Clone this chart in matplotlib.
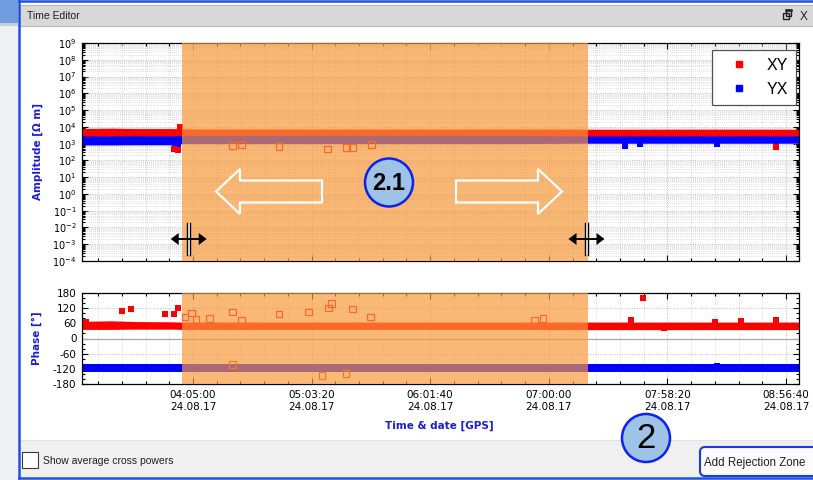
import matplotlib
matplotlib.use("Agg")
import matplotlib.pyplot as plt
from matplotlib.patches import Rectangle, Circle, Polygon, FancyBboxPatch
from matplotlib.ticker import (MultipleLocator, FixedLocator, LogLocator,
                               FuncFormatter, NullFormatter)
from matplotlib.lines import Line2D

plt.rcParams["axes.unicode_minus"] = False

W, H = 813, 480

# ---------------- data (time = seconds since 00:00:00 GPS) ----------------
date_label = "24.08.17"
tick_times = [14700, 18200, 21700, 25200, 28700, 32200]
reject_zone = (14375, 26350)

# envelope of the dense sample cloud
band_t = [11425, 12300, 13000, 14100, 14380, 16000, 20000, 24000, 26350, 27500, 30000, 32584]
xy_amp_hi = [7900, 8300, 7900, 7900, 7500, 7400, 7300, 7400, 7200, 7200, 7300, 7200]
xy_amp_lo = [2900, 2900, 2900, 2900, 3000, 3100, 3100, 3100, 2900, 2900, 2900, 2900]
yx_amp_hi = [3400, 3400, 3400, 3400, 3500, 3500, 3500, 3500, 3400, 3400, 3400, 3400]
yx_amp_lo = [830, 830, 850, 850, 1000, 1000, 1000, 1000, 1050, 1050, 1050, 1050]

xy_ph_hi = [68, 70, 67, 66, 65, 65, 65, 65, 65, 65, 65, 65]
xy_ph_lo = [36, 36, 37, 37, 36, 36, 36, 36, 35, 35, 35, 35]
yx_ph_hi = [-101, -101, -101, -101, -101, -101, -101, -101, -101, -101, -101, -101]
yx_ph_lo = [-131, -131, -131, -131, -131, -131, -131, -131, -131, -131, -131, -131]

# individual samples sticking out of the cloud
xy_amp_pts_t = [14150, 14250, 14330, 31916]
xy_amp_pts_v = [450, 400, 9500, 650]
yx_amp_pts_t = [14180, 14260, 27443, 27900, 30174, 31900]
yx_amp_pts_v = [700, 650, 750, 950, 1000, 800]

xy_ph_pts_t = [11530, 12603, 12869, 13873, 14139, 14257, 27635, 27989, 28600, 30100, 30880, 31900]
xy_ph_pts_v = [64, 107, 118, 98, 98, 122, 75, 161, 40, 64, 70, 75]
yx_ph_pts_t = [30150]
yx_ph_pts_v = [-108]

# samples flagged inside the rejection zone
rej_amp_t = [15861, 16138, 17240, 18678, 19239, 19416, 19977]
rej_amp_v = [800, 880, 650, 480, 560, 560, 880]
rej_xy_ph_t = [14464, 14662, 14789, 15181, 15861, 16138, 17240, 18117, 18696, 18796, 19404, 19948, 24779, 25027]
rej_xy_ph_v = [85, 101, 74, 78, 105, 72, 97, 105, 121, 138, 117, 85, 70, 80]
rej_yx_ph_t = [15872, 18509, 19218]
rej_yx_ph_v = [-104, -146, -139]

series_names = ["XY", "YX"]
RED, BLUE = "#ff0000", "#0000ff"
ZONE = "#f8993a"
LABEL_BLUE = "#1c1cd4"

# ---------------- figure ----------------
fig = plt.figure(figsize=(W / 100, H / 100), dpi=100, facecolor="white")


def fx(x):
    return x / W


def fy(y):
    return 1 - y / H


# window chrome (pixel coordinates, y downwards)
bg = fig.add_axes([0, 0, 1, 1], zorder=-5)
bg.set_xlim(0, W)
bg.set_ylim(H, 0)
bg.axis("off")
bg.add_patch(Rectangle((0, 0), 18, H, color="#eef0f3", lw=0))
bg.add_patch(Rectangle((0, 0), 18, 23, color="#6f9de0", lw=0))
bg.add_patch(Rectangle((0, 23), 18, 3, color="#c9cfd8", lw=0))
bg.add_patch(Rectangle((19, 4.5), W - 19, 21.5, facecolor="#d8d8d8", edgecolor="#b8b8b8", lw=0.8))
bg.add_patch(Rectangle((19, 440), W - 19, 37, facecolor="#f0f0f0", edgecolor="none"))
bg.plot([19, W], [440, 440], color="#e2e2e2", lw=0.8)
bg.plot([18.5, W], [0.8, 0.8], color="#1f4fe0", lw=1.8)
bg.plot([18.5, 18.5], [0, 478], color="#1f4fe0", lw=1.8)
bg.plot([18.5, W], [478, 478], color="#1f4fe0", lw=1.8)
bg.text(27, 16, "Time Editor", fontsize=7.5, family="Liberation Sans", color="#202020",
        va="center", ha="left")
# restore / close icons
bg.add_patch(Rectangle((783, 13), 5.5, 6, fill=False, edgecolor="#202020", lw=1.0))
bg.add_patch(Rectangle((785.5, 10), 5.5, 5.5, fill=False, edgecolor="#202020", lw=1.0))
bg.plot([785.5, 791], [10.3, 10.3], color="#202020", lw=1.8)
bg.text(804, 16.5, "X", fontsize=8.5, family="Liberation Sans", color="#202020",
        va="center", ha="center")
# checkbox and button
bg.add_patch(Rectangle((22, 452), 15.5, 15.5, facecolor="white", edgecolor="#3a3a3a", lw=0.8))
bg.text(43, 461, "Show average cross powers", fontsize=7.5, family="Liberation Sans",
        color="#202020", va="center", ha="left")
bg.add_patch(FancyBboxPatch((700, 447), 125, 29, boxstyle="round,pad=0,rounding_size=5",
                            facecolor="#fbfbfb", edgecolor="#1a3be0", lw=1.5))
bg.text(704, 463, "Add Rejection Zone", fontsize=8.3, family="Liberation Sans",
        color="#202020", va="center", ha="left")

# ---------------- plot axes ----------------
ax_amp = fig.add_axes([fx(82), fy(261), 717 / W, 218 / H])
ax_ph = fig.add_axes([fx(82), fy(384), 717 / W, 91 / H])

t0, t1 = band_t[0], band_t[-1]


def hms(v, pos=None):
    v = int(round(v))
    return f"{v // 3600:02d}:{(v % 3600) // 60:02d}:{v % 60:02d}\n{date_label}"


for ax in (ax_amp, ax_ph):
    ax.set_xlim(t0, t1)
    ax.set_axisbelow(True)
    ax.xaxis.set_major_locator(FixedLocator(tick_times))
    ax.xaxis.set_minor_locator(MultipleLocator(700))
    ax.tick_params(which="both", direction="in", top=True, right=True, width=0.8,
                   colors="black", labelsize=7.5)
    ax.tick_params(which="major", length=4.5)
    ax.tick_params(which="minor", length=2.5)
    ax.axvspan(*reject_zone, color=ZONE, alpha=0.69, lw=0, zorder=3)
    for s in ax.spines.values():
        s.set_linewidth(0.9)
    ax.spines["bottom"].set_linestyle((0, (1, 1)))

ax_amp.xaxis.set_major_formatter(NullFormatter())
ax_ph.xaxis.set_major_formatter(FuncFormatter(hms))
for lab in ax_ph.get_xticklabels():
    lab.set_linespacing(1.25)
ax_ph.tick_params(axis="x", pad=4)

# amplitude
ax_amp.set_yscale("log")
ax_amp.set_ylim(1e-4, 1e9)
ax_amp.yaxis.set_major_locator(LogLocator(base=10, numticks=30))
ax_amp.yaxis.set_minor_locator(LogLocator(base=10, subs=range(2, 10), numticks=200))
ax_amp.tick_params(axis="y", labelsize=7, pad=4)
ax_amp.grid(which="major", ls=(0, (1, 1.5)), color="#bcbcbc", lw=0.7)
ax_amp.grid(which="minor", ls=(0, (1, 1.5)), color="#d2d2d2", lw=0.6)

ax_amp.fill_between(band_t, yx_amp_lo, yx_amp_hi, color=BLUE, lw=0, zorder=2)
ax_amp.fill_between(band_t, xy_amp_lo, xy_amp_hi, color=RED, lw=0, zorder=2.1)
ax_amp.scatter(yx_amp_pts_t, yx_amp_pts_v, marker="s", s=20, color=BLUE, lw=0, zorder=2)
ax_amp.scatter(xy_amp_pts_t, xy_amp_pts_v, marker="s", s=20, color=RED, lw=0, zorder=2.1)
ax_amp.scatter(rej_amp_t, rej_amp_v, marker="s", s=24, facecolor="none",
               edgecolor=RED, lw=0.9, zorder=2)

leg_handles = [Line2D([], [], ls="none", marker="s", markersize=4.3, color=RED),
               Line2D([], [], ls="none", marker="s", markersize=4.3, color=BLUE)]
leg = ax_amp.legend(leg_handles, series_names, loc="upper right",
                    bbox_to_anchor=(fx(796), fy(50)), bbox_transform=fig.transFigure,
                    borderaxespad=0, fancybox=False, framealpha=1, edgecolor="#505050",
                    prop={"family": "Liberation Sans", "size": 11.5},
                    handlelength=2.4, handletextpad=0.5, labelspacing=0.55, borderpad=0.5)
leg.get_frame().set_linewidth(0.9)
leg.set_zorder(6)

# phase
ax_ph.set_ylim(-180, 180)
ax_ph.yaxis.set_major_locator(MultipleLocator(60))
ax_ph.yaxis.set_minor_locator(MultipleLocator(20))
ax_ph.tick_params(axis="y", pad=4)
ax_ph.spines["top"].set_linestyle((0, (1, 1)))
ax_ph.spines["right"].set_linestyle((0, (1, 1)))
ax_ph.grid(which="major", ls=(0, (1, 1.5)), color="#bcbcbc", lw=0.7)
ax_ph.grid(which="minor", axis="x", ls=(0, (1, 1.5)), color="#d2d2d2", lw=0.6)
ax_ph.axhline(0, color="#a8a8a8", lw=0.9, zorder=1)

ax_ph.fill_between(band_t, yx_ph_lo, yx_ph_hi, color=BLUE, lw=0, zorder=2)
ax_ph.fill_between(band_t, xy_ph_lo, xy_ph_hi, color=RED, lw=0, zorder=2.1)
ax_ph.scatter(yx_ph_pts_t, yx_ph_pts_v, marker="s", s=22, color=BLUE, lw=0, zorder=2)
ax_ph.scatter(xy_ph_pts_t, xy_ph_pts_v, marker="s", s=22, color=RED, lw=0, zorder=2.1)
ax_ph.scatter(rej_xy_ph_t, rej_xy_ph_v, marker="s", s=24, facecolor="none",
              edgecolor=RED, lw=0.9, zorder=2)
ax_ph.scatter(rej_yx_ph_t, rej_yx_ph_v, marker="s", s=24, facecolor="none",
              edgecolor="#c04020", lw=0.9, zorder=2)

# axis titles
fig.text(fx(37.5), fy(151), "Amplitude [\u03a9 m]", rotation=90, ha="center", va="center",
         fontsize=7.5, fontweight="bold", color=LABEL_BLUE)
fig.text(fx(37), fy(338), "Phase [\u00b0]", rotation=90, ha="center", va="center",
         fontsize=7.5, fontweight="bold", color=LABEL_BLUE)
fig.text(fx(439), fy(425.5), "Time & date [GPS]", ha="center", va="center",
         fontsize=7.5, fontweight="bold", color=LABEL_BLUE)

# ---------------- annotations on top ----------------
ov = fig.add_axes([0, 0, 1, 1], zorder=10)
ov.set_xlim(0, W)
ov.set_ylim(H, 0)
ov.axis("off")
ov.patch.set_alpha(0)

# drag arrows (outlined, white)
left_arrow = [(216, 191.5), (240, 169), (240, 180.5), (322, 180.5),
              (322, 202.5), (240, 202.5), (240, 214)]
cx_mirror = 389
right_arrow = [(2 * cx_mirror - x, y) for x, y in left_arrow]
for pts in (left_arrow, right_arrow):
    ov.add_patch(Polygon(pts, closed=True, fill=False, edgecolor="white", lw=1.6,
                         joinstyle="miter"))


def resize_cursor(cx, cy):
    ov.add_patch(Rectangle((cx - 1.6, cy - 16), 3.2, 32, facecolor="white", lw=0))
    for dx in (-1.6, 1.6):
        ov.plot([cx + dx, cx + dx], [cy - 16, cy + 16], color="black", lw=1.0)
    ov.plot([cx - 12, cx + 12], [cy, cy], color="black", lw=1.4)
    ov.add_patch(Polygon([(cx - 18, cy), (cx - 10, cy - 6), (cx - 10, cy + 6)],
                         closed=True, color="black", lw=0))
    ov.add_patch(Polygon([(cx + 18, cy), (cx + 10, cy - 6), (cx + 10, cy + 6)],
                         closed=True, color="black", lw=0))


resize_cursor(188.7, 239)
resize_cursor(586.5, 239)

# step markers
for (cx, cy), txt, size, weight in (((389, 182.5), "2.1", 17, "bold"),
                                    ((646, 438), "2", 25, "normal")):
    ov.add_patch(Circle((cx, cy), 24, facecolor="#9dc3e6", edgecolor="#0b22f0", lw=1.8))
    ov.text(cx, cy + 1, txt, ha="center", va="center", fontsize=size, fontweight=weight,
            family="Liberation Sans", color="black")

fig.savefig("out.png", dpi=100, facecolor="white")
